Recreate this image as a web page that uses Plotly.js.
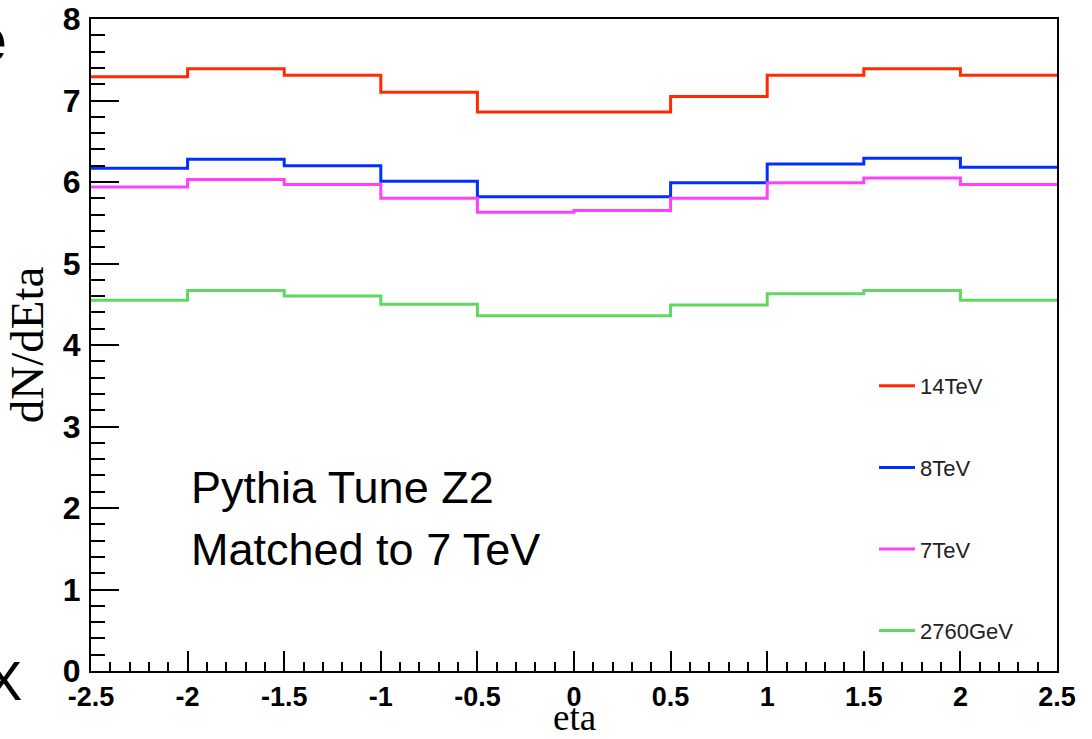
<!DOCTYPE html>
<html>
<head>
<meta charset="utf-8">
<script src="https://cdn.plot.ly/plotly-3.0.1.min.js"></script>
<style>html,body{margin:0;padding:0;background:#fff;}#chart{width:1092px;height:739px;}</style>
</head>
<body>
<div id="chart"></div>
<script>
// Bin edges in eta (10 bins of width 0.5)
const etaEdges = [-2.5, -2, -1.5, -1, -0.5, 0, 0.5, 1, 1.5, 2, 2.5];
// dN/dEta per bin
const dndeta14TeV   = [7.29, 7.39, 7.31, 7.10, 6.86, 6.86, 7.05, 7.31, 7.39, 7.31];
const dndeta8TeV    = [6.17, 6.28, 6.20, 6.01, 5.82, 5.82, 5.99, 6.22, 6.29, 6.18];
const dndeta7TeV    = [5.94, 6.03, 5.97, 5.80, 5.63, 5.65, 5.80, 5.99, 6.05, 5.97];
const dndeta2760GeV = [4.55, 4.67, 4.60, 4.50, 4.36, 4.36, 4.49, 4.63, 4.67, 4.55];
const seriesNames  = ['14TeV', '8TeV', '7TeV', '2760GeV'];
const seriesColors = ['#ff2a00', '#0030ff', '#ff40ff', '#60d860'];
const xTickVals = [-2.5, -2, -1.5, -1, -0.5, 0, 0.5, 1, 1.5, 2, 2.5];
const xTickText = ['-2.5', '-2', '-1.5', '-1', '-0.5', '0', '0.5', '1', '1.5', '2', '2.5'];
const yTickVals = [0, 1, 2, 3, 4, 5, 6, 7, 8];
const xTitle = 'eta';
const yTitle = 'dN/dEta';

const allSeries = [dndeta14TeV, dndeta8TeV, dndeta7TeV, dndeta2760GeV];

const traces = allSeries.map((vals, i) => ({
  type: 'scatter',
  mode: 'lines',
  x: etaEdges,
  y: vals.concat([vals[vals.length - 1]]),
  line: {shape: 'hv', color: seriesColors[i], width: 3},
  name: seriesNames[i],
  legendgroup: 'g' + i,
  hoverinfo: 'skip'
}));

const W = 1092, H = 739;
const mL = 91, mR = 35, mT = 19, mB = 68;
const pw = W - mL - mR, ph = H - mT - mB;
const px = v => (v - mL) / pw;
const py = v => (H - mB - v) / ph;

const layout = {
  width: W, height: H,
  margin: {l: mL, r: mR, t: mT, b: mB, pad: 0},
  paper_bgcolor: '#ffffff',
  plot_bgcolor: '#ffffff',
  showlegend: true,
  legend: {
    x: px(874), xanchor: 'left',
    y: py(365), yanchor: 'top',
    bgcolor: 'rgba(0,0,0,0)',
    borderwidth: 0,
    itemwidth: 36,
    font: {family: 'Liberation Sans, Arial, sans-serif', size: 22, color: '#222'},
    tracegroupgap: 50,
    traceorder: 'grouped'
  },
  xaxis: {
    range: [-2.5, 2.5],
    tickmode: 'array', tickvals: xTickVals, ticktext: xTickText,
    ticks: 'inside', ticklen: 20, tickwidth: 2, tickcolor: '#000',
    minor: {dtick: 0.1, ticks: 'inside', ticklen: 9, tickwidth: 2, tickcolor: '#000', showgrid: false},
    showline: true, linecolor: '#000', linewidth: 2, mirror: true,
    showgrid: false, zeroline: false,
    tickfont: {family: 'Liberation Sans, Arial, sans-serif', size: 27, color: '#000', weight: 'bold'},
    ticklabelstandoff: 1,
    automargin: false
  },
  yaxis: {
    range: [0, 8],
    tickmode: 'array', tickvals: yTickVals,
    ticks: 'inside', ticklen: 28, tickwidth: 2, tickcolor: '#000',
    minor: {dtick: 0.2, ticks: 'inside', ticklen: 14, tickwidth: 2, tickcolor: '#000', showgrid: false},
    showline: true, linecolor: '#000', linewidth: 2, mirror: true,
    showgrid: false, zeroline: false,
    tickfont: {family: 'Liberation Sans, Arial, sans-serif', size: 32, color: '#000', weight: 'bold'},
    ticklabelstandoff: 2,
    title: {text: yTitle, font: {family: 'Liberation Serif, Times New Roman, serif', size: 47, color: '#000'}, standoff: 4},
    automargin: false
  },
  annotations: [
    {xref: 'x', yref: 'paper', x: 0, y: py(739), xanchor: 'center', yanchor: 'bottom',
     text: xTitle, showarrow: false, borderpad: 0,
     font: {family: 'Liberation Serif, Times New Roman, serif', size: 37, color: '#000'}},
    {xref: 'paper', yref: 'paper', x: px(189), y: py(487), xanchor: 'left', yanchor: 'middle',
     text: 'Pythia Tune Z2', showarrow: false,
     font: {family: 'Liberation Sans, Arial, sans-serif', size: 45, color: '#000'}},
    {xref: 'paper', yref: 'paper', x: px(189), y: py(549), xanchor: 'left', yanchor: 'middle',
     text: 'Matched to 7 TeV', showarrow: false,
     font: {family: 'Liberation Sans, Arial, sans-serif', size: 45, color: '#000'}},
    {xref: 'paper', yref: 'paper', x: px(9), y: py(40), xanchor: 'right', yanchor: 'middle',
     text: 'e', showarrow: false,
     font: {family: 'Liberation Sans, Arial, sans-serif', size: 64, color: '#000', weight: 'bold'}},
    {xref: 'paper', yref: 'paper', x: px(24), y: py(680), xanchor: 'right', yanchor: 'middle',
     text: 'X', showarrow: false,
     font: {family: 'Liberation Sans, Arial, sans-serif', size: 56, color: '#000'}}
  ]
};

Plotly.newPlot('chart', traces, layout, {displayModeBar: false, staticPlot: true});
</script>
</body>
</html>
